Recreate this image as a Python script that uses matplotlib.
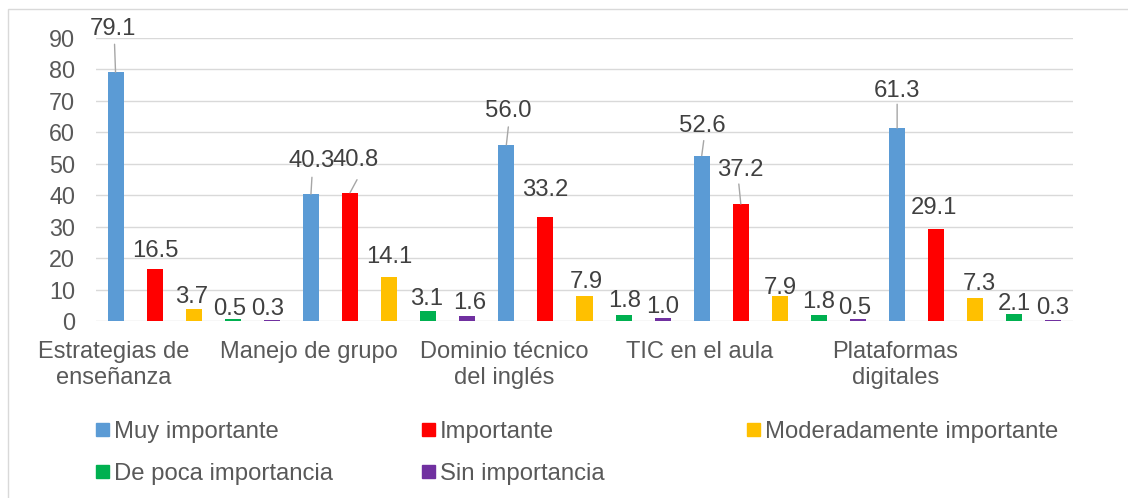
import matplotlib
matplotlib.use("Agg")
import matplotlib.pyplot as plt
from matplotlib.patches import Rectangle

# ---------------- data ----------------
categories = ["Estrategias de\nenseñanza", "Manejo de grupo", "Dominio técnico\ndel inglés",
              "TIC en el aula", "Plataformas\ndigitales"]
series_names = ["Muy importante", "Importante", "Moderadamente importante",
                "De poca importancia", "Sin importancia"]
muy_importante = [79.1, 40.3, 56.0, 52.6, 61.3]
importante = [16.5, 40.8, 33.2, 37.2, 29.1]
moderadamente_importante = [3.7, 14.1, 7.9, 7.9, 7.3]
de_poca_importancia = [0.5, 3.1, 1.8, 1.8, 2.1]
sin_importancia = [0.3, 1.6, 1.0, 0.5, 0.3]
y_ticks = [0, 10, 20, 30, 40, 50, 60, 70, 80, 90]

series_values = [muy_importante, importante, moderadamente_importante,
                 de_poca_importancia, sin_importancia]

# ---------------- style / layout ----------------
colors = ["#5B9BD5", "#FF0000", "#FFC000", "#00B050", "#7030A0"]
W, H, DPI = 1128, 498, 100
FONT = "Liberation Sans"
TXT = "#595959"
LBL = "#404040"

# label centre offsets (pixels) from bar top, per series then category
label_offsets = [
    [(-3, 46), (1, 36), (1.5, 36), (1, 32.6), (0, 40)],
    [(1, 20.6), (6, 35), (0, 29), (-1, 36.5), (-2, 23.5)],
    [(-2, 14.4), (0, 21.7), (1.5, 17), (0, 11), (4, 17)],
    [(-3, 13.4), (-2, 15), (1.5, 17), (0, 16), (0, 13)],
    [(-4, 14), (2, 15), (0, 13), (-3, 14), (-1, 15)],
]
# leader line ends (pixels) from bar top
leaders = {
    (0, 0): (-1, 28), (0, 1): (1, 17), (1, 1): (7, 13), (0, 2): (2, 18),
    (0, 3): (2, 15), (1, 3): (-2, 20), (0, 4): (0, 24),
}

plt.rcParams["font.family"] = [FONT, "DejaVu Sans"]
fig = plt.figure(figsize=(W / DPI, H / DPI), dpi=DPI)
fig.patch.set_facecolor("white")

# outer chart border
fig.patches.append(Rectangle((8 / W, -0.05), 1.2, 1 - 9 / H + 0.05, transform=fig.transFigure,
                             fill=False, edgecolor="#D9D9D9", lw=1.0))

ax = fig.add_axes([96 / W, 177 / H, (1073 - 96) / W, (321 - 38) / H])
ax.set_xlim(-0.5, len(categories) - 0.5)
ax.set_ylim(0, 90)

n = len(series_values)
step = 0.2
bw = 0.082
for s, vals in enumerate(series_values):
    xs = [i + (s - (n - 1) / 2) * step for i in range(len(categories))]
    ax.bar(xs, vals, width=bw, color=colors[s], zorder=3, label=series_names[s])
    for c, (x, v) in enumerate(zip(xs, vals)):
        dx, dy = label_offsets[s][c]
        ax.annotate(f"{v:.1f}", xy=(x, v), xytext=(dx, dy - 8.5), textcoords="offset pixels",
                    ha="center", va="baseline", fontsize=17.2, color=LBL, annotation_clip=False, zorder=5)
        if (s, c) in leaders:
            lx, ly = leaders[(s, c)]
            ax.annotate("", xy=(x, v), xytext=(lx, ly), textcoords="offset pixels",
                        arrowprops=dict(arrowstyle="-", color="#A6A6A6", lw=1.0,
                                        shrinkA=0, shrinkB=0), annotation_clip=False, zorder=4)

ax.set_yticks(y_ticks)
ax.set_yticklabels([str(t) for t in y_ticks], fontsize=16.8, color=TXT)
ax.tick_params(axis="y", length=0, pad=15)
ax.grid(axis="y", color="#D9D9D9", lw=1.0, zorder=0)
ax.set_axisbelow(True)
for sp in ax.spines.values():
    sp.set_visible(False)

ax.set_xticks([i - 0.41 for i in range(len(categories))])
ax.set_xticklabels(categories, fontsize=17, color=TXT, linespacing=1.2)
ax.tick_params(axis="x", length=0, pad=14.5)

# legend (manual layout)
leg_pos = [(96, 429), (422, 429), (747, 429), (96, 471), (422, 471)]
for s, (lx, ly) in enumerate(leg_pos):
    fig.patches.append(Rectangle((lx / W, 1 - (ly + 6.5) / H), 13 / W, 13 / H,
                                 transform=fig.transFigure, color=colors[s]))
    fig.text((lx + 18) / W, 1 - ly / H, series_names[s], fontsize=17.2, color=TXT,
             ha="left", va="center_baseline")

fig.savefig("out.png", dpi=DPI)
